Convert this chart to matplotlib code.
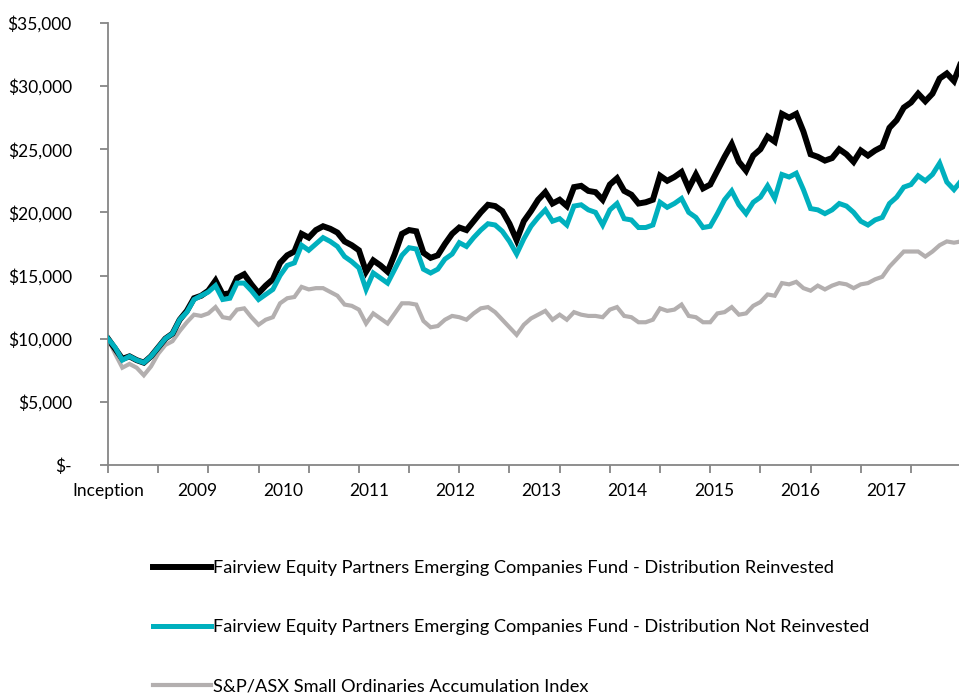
import matplotlib
matplotlib.use("Agg")
import matplotlib.pyplot as plt
from matplotlib.ticker import FuncFormatter, MultipleLocator, FixedLocator

# growth of $10,000, monthly from inception
reinvested = [
    10000, 9200, 8400, 8600, 8300, 8100, 8600, 9300, 10000, 10400,
    11500, 12200, 13200, 13400, 13800, 14600, 13500, 13600, 14800, 15100,
    14300, 13600, 14200, 14700, 16000, 16600, 16900, 18300, 18000, 18600,
    18900, 18700, 18400, 17700, 17400, 17000, 15300, 16200, 15800, 15300,
    16700, 18300, 18600, 18500, 16800, 16400, 16600, 17500, 18300, 18800,
    18600, 19300, 20000, 20600, 20500, 20100, 19100, 17800, 19300, 20100,
    21000, 21600, 20700, 21000, 20500, 22000, 22100, 21700, 21600, 21000,
    22200, 22700, 21700, 21400, 20700, 20800, 21000, 22900, 22500, 22800,
    23200, 21900, 23000, 21900, 22200, 23300, 24400, 25400, 24000, 23300,
    24500, 25000, 26000, 25600, 27800, 27500, 27800, 26400, 24600, 24400,
    24100, 24300, 25000, 24600, 24000, 24900, 24500, 24900, 25200, 26700,
    27300, 28300, 28700, 29400, 28800, 29400, 30600, 31000, 30400, 31900,
]
not_reinvested = [
    10000, 9300, 8300, 8600, 8300, 8100, 8600, 9300, 10000, 10400,
    11500, 12100, 13100, 13400, 13700, 14200, 13100, 13200, 14400, 14400,
    13800, 13100, 13500, 13900, 15000, 15800, 16000, 17400, 17000, 17500,
    18000, 17700, 17300, 16500, 16100, 15600, 13900, 15200, 14800, 14400,
    15500, 16600, 17200, 17100, 15500, 15200, 15500, 16300, 16700, 17600,
    17300, 18000, 18600, 19100, 19000, 18500, 17700, 16700, 17900, 18900,
    19600, 20200, 19300, 19500, 19000, 20500, 20600, 20200, 20000, 19000,
    20200, 20700, 19500, 19400, 18800, 18800, 19000, 20800, 20400, 20700,
    21100, 20000, 19600, 18800, 18900, 19900, 21000, 21700, 20600, 19900,
    20800, 21200, 22100, 21100, 23000, 22800, 23100, 21800, 20300, 20200,
    19900, 20200, 20700, 20500, 20000, 19300, 19000, 19400, 19600, 20700,
    21200, 22000, 22200, 22900, 22500, 23000, 23900, 22400, 21800, 22500,
]
index = [
    10000, 8800, 7700, 8000, 7700, 7100, 7800, 8800, 9500, 9800,
    10600, 11300, 11900, 11800, 12000, 12500, 11700, 11600, 12300, 12400,
    11700, 11100, 11500, 11700, 12800, 13200, 13300, 14100, 13900, 14000,
    14000, 13700, 13400, 12700, 12600, 12300, 11200, 12000, 11600, 11200,
    12000, 12800, 12800, 12700, 11400, 10900, 11000, 11500, 11800, 11700,
    11500, 12000, 12400, 12500, 12100, 11500, 10900, 10300, 11100, 11600,
    11900, 12200, 11500, 11900, 11500, 12100, 11900, 11800, 11800, 11700,
    12300, 12500, 11800, 11700, 11300, 11300, 11500, 12400, 12200, 12300,
    12700, 11800, 11700, 11300, 11300, 12000, 12100, 12500, 11900, 12000,
    12600, 12900, 13500, 13400, 14400, 14300, 14500, 14000, 13800, 14200,
    13900, 14200, 14400, 14300, 14000, 14300, 14400, 14700, 14900, 15700,
    16300, 16900, 16900, 16900, 16500, 16900, 17400, 17700, 17600, 17700,
]
year_labels = ["Inception", "2009", "2010", "2011", "2012", "2013",
               "2014", "2015", "2016", "2017"]
label_pos = [0] + [12.5 + 12 * k for k in range(9)]

names = [
    "Fairview Equity Partners Emerging Companies Fund - Distribution Reinvested",
    "Fairview Equity Partners Emerging Companies Fund - Distribution Not Reinvested",
    "S&P/ASX Small Ordinaries Accumulation Index",
]

plt.rcParams['font.family'] = ['Lato', 'DejaVu Sans']
axis_grey = "#868686"

fig = plt.figure(figsize=(9.59, 6.95), dpi=100)
ax = fig.add_axes([0.1126, 0.331, 0.8874, 0.636])

x = list(range(len(reinvested)))
l1, = ax.plot(x, reinvested, color="black", lw=4.3, zorder=2, solid_joinstyle="miter")
l2, = ax.plot(x, not_reinvested, color="#00B0BE", lw=3.6, zorder=3, solid_joinstyle="miter")
l3, = ax.plot(x, index, color="#B3AFAF", lw=3.0, zorder=1, solid_joinstyle="miter")

ax.set_xlim(0, 118.7)
ax.set_ylim(0, 35000)

for s in ["top", "right"]:
    ax.spines[s].set_visible(False)
for s in ["left", "bottom"]:
    ax.spines[s].set_color(axis_grey)
    ax.spines[s].set_linewidth(1.3)

ax.yaxis.set_major_locator(MultipleLocator(5000))
ax.yaxis.set_major_formatter(FuncFormatter(lambda v, p: "$-" if v == 0 else "${:,.0f}".format(v)))
ax.tick_params(axis="y", length=6, width=1.3, color=axis_grey, labelsize=12.5, pad=20)

ax.xaxis.remove_overlapping_locs = False
ax.xaxis.set_major_locator(MultipleLocator(7))
ax.xaxis.set_major_formatter(FuncFormatter(lambda v, p: ""))
ax.tick_params(axis="x", which="major", length=6, width=1.3, color=axis_grey)
ax.xaxis.set_minor_locator(FixedLocator(label_pos))
ax.set_xticklabels(year_labels, minor=True)
ax.tick_params(axis="x", which="minor", length=0, labelsize=12.5, pad=13)

fig.legend([l1, l2, l3], names, loc="upper left", bbox_to_anchor=(0.160, 0.194),
           frameon=False, fontsize=13.15, handlelength=3.15, handletextpad=0.1,
           labelspacing=2.37, borderaxespad=0, borderpad=0)

fig.savefig("out.png", dpi=100)
